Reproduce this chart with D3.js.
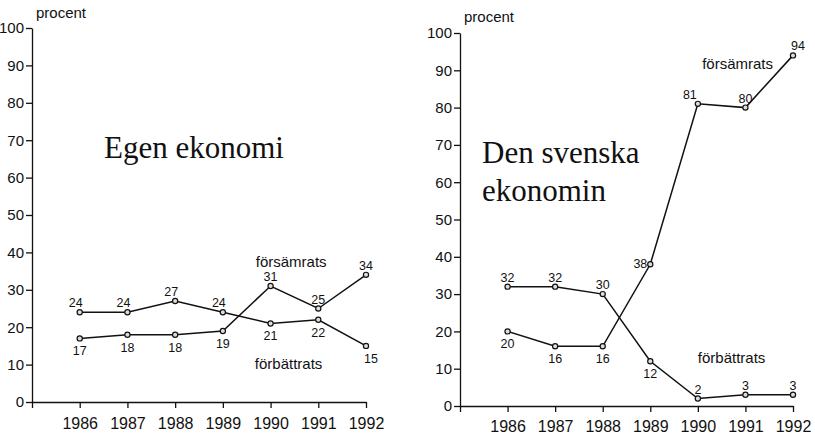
<!DOCTYPE html>
<html><head><meta charset="utf-8">
<script src="https://cdn.jsdelivr.net/npm/d3@7"></script>
<style>
html,body{margin:0;padding:0;background:#fff;}
svg{display:block;}
.axis path,.axis line{stroke:#111;stroke-width:1.3;}
.axis text{font-family:"Liberation Sans",Arial,sans-serif;fill:#111;}
</style></head>
<body>
<script>
const years = [1986, 1987, 1988, 1989, 1990, 1991, 1992];
const yTicks = [0, 10, 20, 30, 40, 50, 60, 70, 80, 90, 100];
const seriesNames = ["försämrats", "förbättrats"];
const egenForsamrats = [17, 18, 18, 19, 31, 25, 34];
const egenForbattrats = [24, 24, 27, 24, 21, 22, 15];
const svenskaForsamrats = [20, 16, 16, 38, 81, 80, 94];
const svenskaForbattrats = [32, 32, 30, 12, 2, 3, 3];
const titleEgen = ["Egen ekonomi"];
const titleSvenska = ["Den svenska", "ekonomin"];
const unitLabel = "procent";

const W = 815, H = 436;
const svg = d3.select("body").append("svg").attr("width", W).attr("height", H);
const ink = "#111";
const sans = '"Liberation Sans",Arial,sans-serif';
const serif = '"Liberation Serif","Times New Roman",serif';

const panels = [
  {
    xr: [32, 366], yr: [402, 28], title: titleEgen, titlePos: [104, 158],
    series: [egenForsamrats, egenForbattrats],
    nameAt: [[1989.69, 36.1], [1989.67, 8.8]],
    procentPos: [36, 18], yearPad: 10
  },
  {
    xr: [460, 793], yr: [406, 33], title: titleSvenska, titlePos: [482, 163],
    series: [svenskaForsamrats, svenskaForbattrats],
    nameAt: [[1990.09, 90.3], [1990.0, 11.5]],
    procentPos: [464, 22], yearPad: 9
  }
];

panels.forEach((p, pi) => {
  const x = d3.scaleLinear().domain([1985, 1992]).range(p.xr);
  const y = d3.scaleLinear().domain([0, 100]).range(p.yr);
  const g = svg.append("g");

  // y axis
  const ya = g.append("g").attr("class", "axis")
    .attr("transform", `translate(${p.xr[0]},0)`)
    .call(d3.axisLeft(y).tickValues(yTicks).tickSize(6).tickSizeOuter(0).tickPadding(2));
  ya.selectAll("text").style("font-size", "15px");

  // x axis
  const xa = g.append("g").attr("class", "axis")
    .attr("transform", `translate(0,${p.yr[0]})`)
    .call(d3.axisBottom(x).tickValues([1985].concat(years))
      .tickFormat(d => d === 1985 ? "" : String(d))
      .tickSize(6).tickSizeOuter(0).tickPadding(p.yearPad));
  xa.selectAll("text").style("font-size", "16px");

  // procent
  g.append("text").attr("x", p.procentPos[0]).attr("y", p.procentPos[1])
    .attr("font-family", sans).attr("font-size", 15).attr("fill", ink).text(unitLabel);

  // title
  const t = g.append("text").attr("x", p.titlePos[0]).attr("y", p.titlePos[1])
    .attr("font-family", serif).attr("font-size", 31).attr("fill", ink);
  p.title.forEach((line, i) => {
    t.append("tspan").attr("x", p.titlePos[0]).attr("dy", i === 0 ? 0 : 38).text(line);
  });

  const line = d3.line().x((d, i) => x(years[i])).y(d => y(d));

  p.series.forEach((vals, si) => {
    const other = p.series[1 - si];
    g.append("path").datum(vals).attr("d", line)
      .attr("fill", "none").attr("stroke", ink).attr("stroke-width", 1.5);
    g.selectAll(null).data(vals).enter().append("circle")
      .attr("cx", (d, i) => x(years[i])).attr("cy", d => y(d)).attr("r", 2.6)
      .attr("fill", "#ddd").attr("stroke", ink).attr("stroke-width", 1.2);

    g.selectAll(null).data(vals).enter().append("text")
      .attr("font-family", sans).attr("font-size", 12.5).attr("fill", ink)
      .attr("text-anchor", "middle")
      .each(function (d, i) {
        let px = x(years[i]), py = y(d);
        const above = d >= other[i] || d < 5;
        let tx = px, ty = above ? py - 5 : py + 17;
        const sel = d3.select(this);
        if (pi === 1 && si === 0 && i === 3) { // 38: placed at left of point
          sel.attr("text-anchor", "end"); tx = px - 3; ty = py + 4;
        }
        if (pi === 1 && si === 0 && i === 6) tx += 5;
        if (pi === 1 && si === 0 && i === 4) tx -= 8;
        if (pi === 0 && above && i < 4) tx -= 4;
        if (pi === 0 && !above && i === 6) tx += 5;
        sel.attr("x", tx).attr("y", ty).text(d);
      });

    g.append("text").attr("x", x(p.nameAt[si][0])).attr("y", y(p.nameAt[si][1]))
      .attr("font-family", sans).attr("font-size", 15).attr("fill", ink)
      .text(seriesNames[si]);
  });
});
</script>
</body></html>
